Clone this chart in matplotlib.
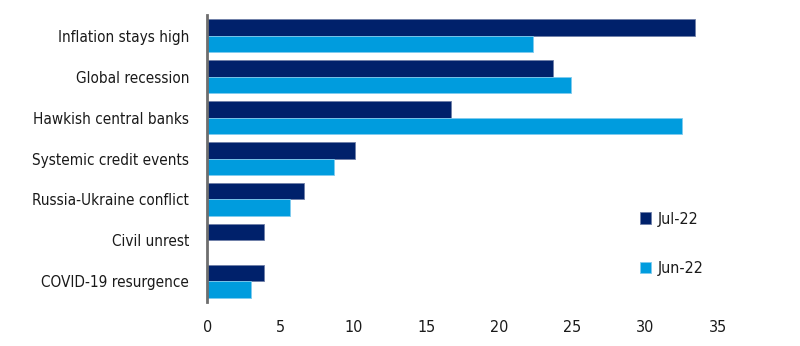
import matplotlib
matplotlib.use("Agg")
import matplotlib.pyplot as plt
import numpy as np

categories = [
    "Inflation stays high",
    "Global recession",
    "Hawkish central banks",
    "Systemic credit events",
    "Russia-Ukraine conflict",
    "Civil unrest",
    "COVID-19 resurgence",
]
jul22 = [33.4, 23.7, 16.7, 10.1, 6.6, 3.9, 3.9]
jun22 = [22.3, 24.9, 32.5, 8.7, 5.7, 0.0, 3.0]
xticks = [0, 5, 10, 15, 20, 25, 30, 35]

plt.rcParams["font.family"] = ["DejaVu Sans"]
plt.rcParams["font.stretch"] = "condensed"

dark = "#00216B"
light = "#009CDE"

fig = plt.figure(figsize=(8.0, 3.46), dpi=100)
ax = fig.add_axes([0.259, 0.1272, 0.6385, 0.8294])

y = np.arange(len(categories))
h = 0.4
ax.barh(y - h / 2, jul22, height=h, color=dark, label="Jul-22", edgecolor="#6F7FA8", linewidth=0.6)
ax.barh(y + h / 2, jun22, height=h, color=light, label="Jun-22", edgecolor="#7FCBEF", linewidth=0.6)

ax.set_ylim(len(categories) - 0.5, -0.5)
ax.set_xlim(0, 35)
ax.set_yticks(y)
ax.set_yticklabels(categories, fontsize=11, color="#1a1a1a")
ax.set_xticks(xticks)
ax.set_xticklabels([str(t) for t in xticks], fontsize=11.5, color="#1a1a1a")
ax.tick_params(axis="y", length=0, pad=13)
ax.tick_params(axis="x", length=0, pad=13)

for s in ["top", "right", "bottom"]:
    ax.spines[s].set_visible(False)
ax.spines["left"].set_color("#6E6E6E")
ax.spines["left"].set_linewidth(2)

leg = ax.legend(loc="center left", bbox_to_anchor=(0.847, 0.203), frameon=False,
                fontsize=11.5, handlelength=0.7, handleheight=0.7, handletextpad=0.45,
                labelspacing=2.15, borderpad=0, borderaxespad=0)
for t in leg.get_texts():
    t.set_color("#1a1a1a")

fig.savefig("out.png", dpi=100)
